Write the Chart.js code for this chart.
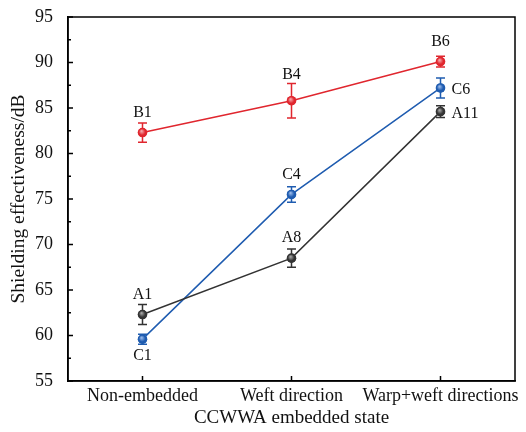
<!DOCTYPE html>
<html>
<head>
<meta charset="utf-8">
<script src="https://cdn.jsdelivr.net/npm/chart.js@4.4.0/dist/chart.umd.min.js"></script>
<style>
  html, body { margin: 0; padding: 0; background: #fff; }
  #wrap { width: 526px; height: 432px; }
</style>
</head>
<body>
<div id="wrap"><canvas id="chart"></canvas></div>
<script>
// Datos
const categories = ['Non-embedded', 'Weft direction', 'Warp+weft directions'];
const seriesA = [62.3, 68.5, 84.6];
const seriesB = [82.3, 85.8, 90.1];
const seriesC = [59.6, 75.5, 87.2];
const errA = [1.1, 1.0, 0.65];
const errB = [1.05, 1.9, 0.6];
const errC = [0.55, 0.85, 1.1];
const labelsA = ['A1', 'A8', 'A11'];
const labelsB = ['B1', 'B4', 'B6'];
const labelsC = ['C1', 'C4', 'C6'];
const yTicks = [55, 60, 65, 70, 75, 80, 85, 90, 95];

const FONT = '"Liberation Serif", "Times New Roman", serif';

// Series con su posición de etiqueta
const datasets = [
  { label: 'A', data: seriesA, err: errA, names: labelsA, pos: ['top', 'top', 'right'], color: '#333333', light: '#a0a0a0' },
  { label: 'C', data: seriesC, err: errC, names: labelsC, pos: ['bottom', 'top', 'right'], color: '#1f5cb0', light: '#93b5e8' },
  { label: 'B', data: seriesB, err: errB, names: labelsB, pos: ['top', 'top', 'top'], color: '#e0262e', light: '#f5a0a4' }
];

// Barras de error, ticks interiores, marco y etiquetas
const extras = {
  id: 'extras',
  beforeDatasetsDraw(chart) {
    const ctx = chart.ctx;
    const y = chart.scales.y;
    ctx.save();
    chart.data.datasets.forEach((ds, i) => {
      const meta = chart.getDatasetMeta(i);
      ctx.strokeStyle = ds.errColor;
      ctx.lineWidth = 1.5;
      meta.data.forEach((pt, j) => {
        const v = ds.data[j], e = ds.err[j];
        const yt = y.getPixelForValue(v + e), yb = y.getPixelForValue(v - e);
        ctx.beginPath();
        ctx.moveTo(pt.x, yt); ctx.lineTo(pt.x, yb);
        ctx.moveTo(pt.x - 4.5, yt); ctx.lineTo(pt.x + 4.5, yt);
        ctx.moveTo(pt.x - 4.5, yb); ctx.lineTo(pt.x + 4.5, yb);
        ctx.stroke();
      });
    });
    ctx.restore();
  },
  afterDatasetsDraw(chart) {
    const ctx = chart.ctx;
    const y = chart.scales.y;
    ctx.save();
    chart.data.datasets.forEach((ds, i) => {
      const meta = chart.getDatasetMeta(i);
      meta.data.forEach((pt, j) => {
        // esfera con brillo
        const g = ctx.createRadialGradient(pt.x - 1, pt.y - 1.5, 0.5, pt.x, pt.y, 5);
        g.addColorStop(0, ds.lightColor);
        g.addColorStop(0.6, ds.errColor);
        g.addColorStop(1, ds.errColor);
        ctx.fillStyle = g;
        ctx.beginPath();
        ctx.arc(pt.x, pt.y, 4.8, 0, Math.PI * 2);
        ctx.fill();
        // etiqueta
        ctx.fillStyle = '#111';
        ctx.font = '16px ' + FONT;
        const pos = ds.pos[j];
        const errTop = y.getPixelForValue(ds.data[j] + ds.err[j]);
        if (pos === 'top') {
          ctx.textAlign = 'center'; ctx.textBaseline = 'middle';
          ctx.fillText(ds.names[j], pt.x, Math.min(pt.y - 20, errTop - 9));
        } else if (pos === 'bottom') {
          ctx.textAlign = 'center'; ctx.textBaseline = 'middle';
          ctx.fillText(ds.names[j], pt.x, pt.y + 17);
        } else {
          ctx.textAlign = 'left'; ctx.textBaseline = 'middle';
          ctx.fillText(ds.names[j], pt.x + 11, pt.y + 2);
        }
      });
    });
    ctx.restore();
  },
  afterDraw(chart) {
    const ctx = chart.ctx;
    const a = chart.chartArea;
    const x = chart.scales.x, y = chart.scales.y;
    ctx.save();
    ctx.strokeStyle = '#000';
    ctx.lineWidth = 1.5;
    ctx.strokeRect(a.left, a.top, a.right - a.left, a.bottom - a.top);
    ctx.beginPath();
    yTicks.forEach(v => {
      const py = y.getPixelForValue(v);
      ctx.moveTo(a.left, py); ctx.lineTo(a.left + 5, py);
      if (v < 95) {
        const pm = y.getPixelForValue(v + 2.5);
        ctx.moveTo(a.left, pm); ctx.lineTo(a.left + 3, pm);
      }
    });
    categories.forEach((c, i) => {
      const px = x.getPixelForValue(i);
      ctx.moveTo(px, a.bottom); ctx.lineTo(px, a.bottom - 5);
    });
    ctx.stroke();
    ctx.restore();
  }
};

new Chart(document.getElementById('chart'), {
  type: 'line',
  data: {
    labels: categories,
    datasets: datasets.map(d => ({
      label: d.label,
      data: d.data,
      err: d.err,
      names: d.names,
      pos: d.pos,
      errColor: d.color,
      lightColor: d.light,
      borderColor: d.color,
      borderWidth: 1.5,
      pointRadius: 4.5,
      pointBackgroundColor: d.color,
      pointBorderWidth: 0,
      fill: false,
      tension: 0
    }))
  },
  options: {
    responsive: true,
    maintainAspectRatio: false,
    animation: false,
    events: [],
    layout: { padding: { top: 17, right: 11, left: 0, bottom: 0 } },
    plugins: {
      legend: { display: false },
      tooltip: { enabled: false }
    },
    scales: {
      x: {
        type: 'category',
        offset: true,
        grid: { display: false, drawTicks: false },
        border: { display: true, color: '#000', width: 1.5 },
        ticks: { color: '#111', font: { family: FONT, size: 18 }, padding: 4, maxRotation: 0, autoSkip: false },
        title: { display: true, text: 'CCWWA embedded state', color: '#111', font: { family: FONT, size: 19 }, padding: { top: 0, bottom: 3 } },
        afterFit(scale) {
          scale.height = 51;
          scale.paddingLeft = 0;
          scale.paddingRight = 0;
        }
      },
      y: {
        min: 55,
        max: 95,
        grid: { display: false, drawTicks: false },
        border: { display: true, color: '#000', width: 1.5 },
        afterBuildTicks(scale) { scale.ticks = yTicks.map(v => ({ value: v })); },
        ticks: { color: '#111', font: { family: FONT, size: 18 }, padding: 15 },
        title: { display: true, text: 'Shielding effectiveness/dB', color: '#111', font: { family: FONT, size: 19.5 }, padding: { top: 7, bottom: 0 } },
        afterFit(scale) {
          scale.width = 68;
          scale.paddingTop = 0;
          scale.paddingBottom = 0;
        }
      }
    }
  },
  plugins: [extras]
});
</script>
</body>
</html>
